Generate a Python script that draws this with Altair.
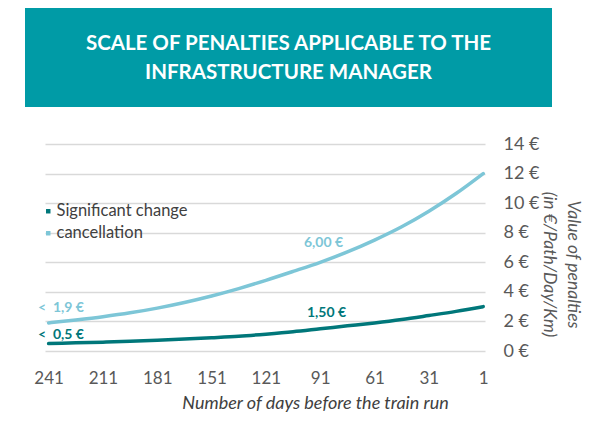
import altair as alt
import pandas as pd

# ---- data ----
days = [241, 226, 211, 196, 181, 166, 151, 136, 121, 106, 91, 76, 61, 46, 31, 16, 1]
cancellation = [1.9, 2.1, 2.32, 2.58, 2.9, 3.28, 3.72, 4.22, 4.78, 5.38, 6.0, 6.7, 7.5, 8.4, 9.45, 10.65, 12.0]
significant = [0.5, 0.55, 0.6, 0.66, 0.73, 0.81, 0.9, 1.0, 1.14, 1.3, 1.5, 1.7, 1.9, 2.13, 2.4, 2.68, 3.0]

series_names = ["Significant change", "cancellation"]
series_colors = ["#00777A", "#7DC6D7"]

x_ticks = [241, 211, 181, 151, 121, 91, 61, 31, 1]
y_ticks = [0, 2, 4, 6, 8, 10, 12, 14]

label_days = [241, 241, 91, 91]
label_values = [1.9, 0.5, 6.0, 1.5]
label_texts = ["<\u00a0\u00a01,9 \u20ac", "<\u00a0\u00a00,5 \u20ac", "6,00 \u20ac", "1,50 \u20ac"]
label_series = [1, 0, 1, 0]

title_lines = ["SCALE OF PENALTIES APPLICABLE TO THE", "INFRASTRUCTURE MANAGER"]
y_title = ["Value of penalties", "(in \u20ac/Path/Day/Km)"]
x_title = "Number of days before the train run"

# ---- tables ----
n = len(days)
long = pd.DataFrame({
    "day": days + days,
    "value": significant + cancellation,
    "series": [series_names[0]] * n + [series_names[1]] * n,
})

W, H = 440, 207
FONT = "Lato"
GRAY = "#595959"

x_enc = alt.X(
    "day:Q",
    scale=alt.Scale(domain=[0, 243], reverse=True, nice=False, zero=False),
    axis=alt.Axis(
        values=x_ticks, grid=False, domain=False, ticks=False, labelOverlap=False,
        labelFont=FONT, labelFontSize=17, labelColor=GRAY, labelPadding=19,
        title=x_title, titleFont=FONT, titleFontSize=18, titleFontStyle="italic",
        titleFontWeight="normal", titleColor="#404040",
        titleX=270, titleY=52, titleAlign="center", titleBaseline="middle",
    ),
)
y_enc = alt.Y(
    "value:Q",
    scale=alt.Scale(domain=[0, 14], nice=False),
    axis=alt.Axis(
        orient="right", values=y_ticks, labelExpr="datum.value + ' \u20ac'",
        grid=True, gridColor="#D9D9D9", gridWidth=1.5, labelOverlap=False,
        domain=False, ticks=False,
        labelFont=FONT, labelFontSize=18, labelColor=GRAY, labelPadding=18,
        labelAlign="left", labelBaseline="middle",
        title=y_title, titleFont=FONT, titleFontSize=17.5, titleFontStyle="italic",
        titleFontWeight="normal", titleColor=GRAY, titleAngle=90,
        titleX=87, titleY=120, titleAlign="center", titleBaseline="middle",
        titleLineHeight=24,
    ),
)

lines = alt.Chart(long).mark_line(strokeWidth=3.5, interpolate="monotone", strokeCap="round").encode(
    x=x_enc, y=y_enc,
    color=alt.Color("series:N", scale=alt.Scale(domain=series_names, range=series_colors), legend=None),
)

legend_layer = alt.Chart(long).mark_square(size=20, opacity=0).encode(
    x=x_enc, y=y_enc,
    color=alt.Color(
        "series:N", scale=alt.Scale(domain=series_names, range=series_colors),
        legend=alt.Legend(
            title=None, orient="none", legendX=-5, legendY=59,
            symbolType="square", symbolSize=20, symbolOpacity=1, symbolStrokeWidth=0,
            labelFont=FONT, labelFontSize=16.5, labelColor="#404040",
            labelOffset=0, rowPadding=5, padding=0,
        ),
    ),
)

label_layers = []
offsets = [(-10.6, -15, "left"), (-10.6, -8.6, "left"), (3.3, -19, "center"), (6.3, -16, "center")]
for i in range(len(label_texts)):
    df = pd.DataFrame({"day": [label_days[i]], "value": [label_values[i]], "txt": [label_texts[i]]})
    dx, dy, al = offsets[i]
    label_layers.append(
        alt.Chart(df).mark_text(
            font=FONT, fontSize=14, fontWeight="bold", align=al, baseline="middle",
            dx=dx, dy=dy, color=series_colors[label_series[i]],
        ).encode(x=x_enc, y=y_enc, text="txt:N")
    )

one = pd.DataFrame({"k": [0]})
title_box = alt.Chart(one).mark_rect(color="#009BA6").encode(
    x=alt.value(-20), x2=alt.value(507), y=alt.value(-138), y2=alt.value(-37)
)
title_text = alt.Chart(one).mark_text(
    font=FONT, fontSize=20.5, fontWeight="bold", color="white",
    align="center", baseline="middle", lineHeight=29,
).encode(x=alt.value(243.5), y=alt.value(-100), text=alt.value(title_lines))

chart = alt.layer(title_box, title_text, lines, legend_layer, *label_layers).resolve_scale(
    color="independent"
).properties(
    width=W, height=H,
    autosize=alt.AutoSizeParams(type="none"),
    padding={"left": 37, "top": 136, "right": 101, "bottom": 63},
).configure_view(stroke=None)

chart.save("out.html", embed_options={"renderer": "svg", "actions": False})
